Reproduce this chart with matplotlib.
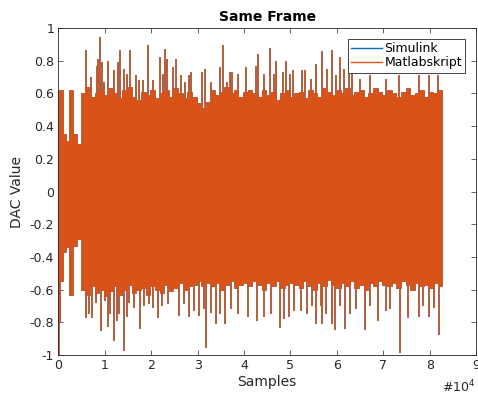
import numpy as np
import matplotlib
matplotlib.use('Agg')
import matplotlib.pyplot as plt
from matplotlib.lines import Line2D

plt.rcParams['font.family'] = 'DejaVu Sans'
plt.rcParams['axes.unicode_minus'] = False

# ── Data ──
# dense band of the signal: breakpoints in samples, upper / lower envelope
early_x  = [0, 950, 1600, 2240, 3230, 4000]
early_hi = [0.62, 0.35, 0.31, 0.62, 0.35, 0.29]
early_lo = [-0.55, -0.37, -0.34, -0.63, -0.33, -0.29]

band_hi = [0.60, 0.64, 0.58, 0.60, 0.62, 0.59,
           0.63, 0.60, 0.57, 0.62, 0.64, 0.58, 0.56, 0.61, 0.59, 0.62,
           0.57, 0.60, 0.62, 0.58, 0.63, 0.60, 0.57, 0.61,
           0.58, 0.54, 0.51, 0.55,
           0.62, 0.59, 0.61, 0.64, 0.60, 0.62, 0.58, 0.61,
           0.62, 0.60, 0.58, 0.62, 0.59, 0.61, 0.56, 0.60, 0.62, 0.58,
           0.60, 0.61, 0.57, 0.62, 0.60, 0.58, 0.63, 0.61, 0.59, 0.62,
           0.60, 0.63, 0.59, 0.61, 0.62, 0.58, 0.60, 0.63, 0.61, 0.59,
           0.62, 0.60, 0.58, 0.61, 0.63, 0.59, 0.60, 0.62, 0.58, 0.61, 0.60, 0.62]
band_lo = [-0.60, -0.63, -0.58, -0.62, -0.60, -0.64,
           -0.61, -0.58, -0.63, -0.60, -0.57, -0.62, -0.60, -0.59, -0.63, -0.58,
           -0.60, -0.62, -0.57, -0.61, -0.59, -0.56, -0.60, -0.58,
           -0.57, -0.55, -0.58, -0.56,
           -0.58, -0.56, -0.60, -0.57, -0.55, -0.59, -0.57, -0.56,
           -0.58, -0.55, -0.57, -0.60, -0.56, -0.58, -0.55, -0.59, -0.57, -0.56,
           -0.57, -0.59, -0.55, -0.58, -0.60, -0.56, -0.58, -0.54, -0.57, -0.59,
           -0.56, -0.58, -0.55, -0.59, -0.57, -0.60, -0.56, -0.58, -0.55, -0.57,
           -0.58, -0.56, -0.59, -0.55, -0.57, -0.60, -0.56, -0.58, -0.57, -0.59, -0.56, -0.58]
n_samples = 82700

# single peaks sticking out of the band
peak_hi_x = [6020, 6970, 8260, 8610, 8900, 9400, 9900, 10760, 12050, 12840,
             13270, 14070, 14780, 15420, 16710, 17420, 18290, 19290, 20300, 21810,
             22450, 22880, 23450, 24600, 25460, 26390, 27250, 28180, 28610, 30910,
             31700, 32900, 34930, 35570, 36290, 37000, 37430, 38800, 40520, 42600,
             43100, 44400, 45690, 46400, 46980, 48480, 48980, 49900, 50630, 52490,
             53200, 54420, 55580, 56790, 57860, 59020, 59800, 60590, 61540, 62600,
             63240, 64900, 67050, 70640, 73500, 77800, 79950, 81750]
peak_hi_y = [0.865, 0.70, 0.77, 0.81, 0.947, 0.79, 0.67, 0.80, 0.74, 0.79,
             0.865, 0.75, 0.72, 0.865, 0.71, 0.68, 0.68, 0.896, 0.68, 0.82,
             0.72, 0.87, 0.81, 0.76, 0.81, 0.71, 0.67, 0.71, 0.73, 0.73,
             0.75, 0.67, 0.76, 0.896, 0.67, 0.73, 0.73, 0.72, 0.76, 0.77,
             0.84, 0.72, 0.876, 0.72, 0.80, 0.73, 0.80, 0.72, 0.74, 0.74,
             0.74, 0.69, 0.78, 0.86, 0.75, 0.865, 0.71, 0.82, 0.75, 0.81,
             0.75, 0.69, 0.71, 0.69, 0.71, 0.71, 0.71, 0.71]
peak_lo_x = [150, 450, 5960, 6670, 7180, 8110, 9120, 10050, 10690, 11190,
             12050, 12630, 13130, 14070, 14710, 15280, 16350, 17570, 18500, 19440,
             20300, 21380, 22310, 23530, 26030, 27100, 28260, 29190, 30410, 31340,
             31770, 32910, 33990, 34930, 36000, 37210, 38650, 40800, 42800, 44250,
             45820, 47750, 48700, 49770, 50700, 52270, 53560, 54570, 55500, 56570,
             56870, 57730, 58940, 59670, 60590, 61670, 62740, 64190, 66120, 67050,
             68830, 70490, 71350, 73650, 75370, 77800, 78510, 79950, 81030, 82100]
peak_lo_y = [-1.0, -0.80, -0.776, -0.75, -0.776, -0.68, -0.853, -0.67, -0.827, -0.75,
             -0.914, -0.79, -0.75, -0.973, -0.77, -0.68, -0.71, -0.841, -0.70, -0.69,
             -0.71, -0.776, -0.70, -0.69, -0.76, -0.69, -0.77, -0.73, -0.76, -0.72,
             -0.959, -0.74, -0.81, -0.75, -0.81, -0.72, -0.75, -0.77, -0.79, -0.77,
             -0.75, -0.837, -0.78, -0.77, -0.73, -0.73, -0.75, -0.70, -0.81, -0.70,
             -0.81, -0.75, -0.81, -0.847, -0.70, -0.84, -0.75, -0.72, -0.847, -0.70,
             -0.79, -0.73, -0.72, -0.99, -0.776, -0.77, -0.70, -0.77, -0.71, -0.878]

labels = ['Simulink', 'Matlabskript']
colors = ['#0072BD', '#D95319']
xtick_labels = ['0', '1', '2', '3', '4', '5', '6', '7', '8', '9']
ytick_labels = ['-1', '-0.8', '-0.6', '-0.4', '-0.2', '0', '0.2', '0.4', '0.6', '0.8', '1']

# breakpoints -> step outline (each level held until the next breakpoint)
env_x = np.concatenate([early_x, np.arange(4800, 82000, 1000), [n_samples]]).astype(float)
lev_hi = np.array(early_hi + band_hi)
lev_lo = np.array(early_lo + band_lo)
step_x = np.repeat(env_x, 2)[1:-1]
step_hi = np.repeat(lev_hi, 2)
step_lo = np.repeat(lev_lo, 2)

# ── Figure ──
fig = plt.figure(figsize=(4.78, 3.99), dpi=100)
ax = fig.add_axes([0.122, 0.110, 0.874, 0.820])
axcol = '#262626'

# Simulink first, Matlabskript on top (the two series coincide)
for k, c in enumerate(colors):
    z = 1 + 2 * k
    ax.fill_between(step_x, step_lo, step_hi, color=c, linewidth=0.4,
                    edgecolor=c, zorder=z)
    ax.vlines(peak_hi_x, 0, peak_hi_y, color=c, linewidth=1.1, zorder=z + 0.5)
    ax.vlines(peak_lo_x, peak_lo_y, 0, color=c, linewidth=1.1, zorder=z + 0.5)

ax.set_xlim(0, 90000)
ax.set_ylim(-1, 1)
ax.set_xticks(np.arange(0, 90001, 10000))
ax.set_xticklabels(xtick_labels)
ax.set_yticks(np.linspace(-1, 1, 11))
ax.set_yticklabels(ytick_labels)
ax.tick_params(direction='in', top=True, right=True, length=3.5, width=0.5,
               colors=axcol, labelsize=9, pad=3)
for s in ax.spines.values():
    s.set_linewidth(0.6)
    s.set_color(axcol)
    s.set_zorder(8)

ax.set_title('Same Frame', fontsize=10, fontweight='bold', pad=5)
ax.set_xlabel('Samples', fontsize=10, color=axcol, labelpad=2)
ax.set_ylabel('DAC Value', fontsize=10, color=axcol, labelpad=4)
ax.text(0.998, -0.072, r'#10$^{4}$', transform=ax.transAxes, ha='right', va='top',
        fontsize=9, color=axcol)

handles = [Line2D([], [], color=c, linewidth=1.0) for c in colors]
leg = ax.legend(handles, labels, loc='upper right', bbox_to_anchor=(0.974, 0.966),
                borderaxespad=0, fontsize=9, fancybox=False, framealpha=1,
                edgecolor=axcol, borderpad=0.25, labelspacing=0.1,
                handlelength=2.5, handletextpad=0.2)
leg.get_frame().set_linewidth(0.6)
leg.set_zorder(10)

fig.savefig('out.png', dpi=100)
